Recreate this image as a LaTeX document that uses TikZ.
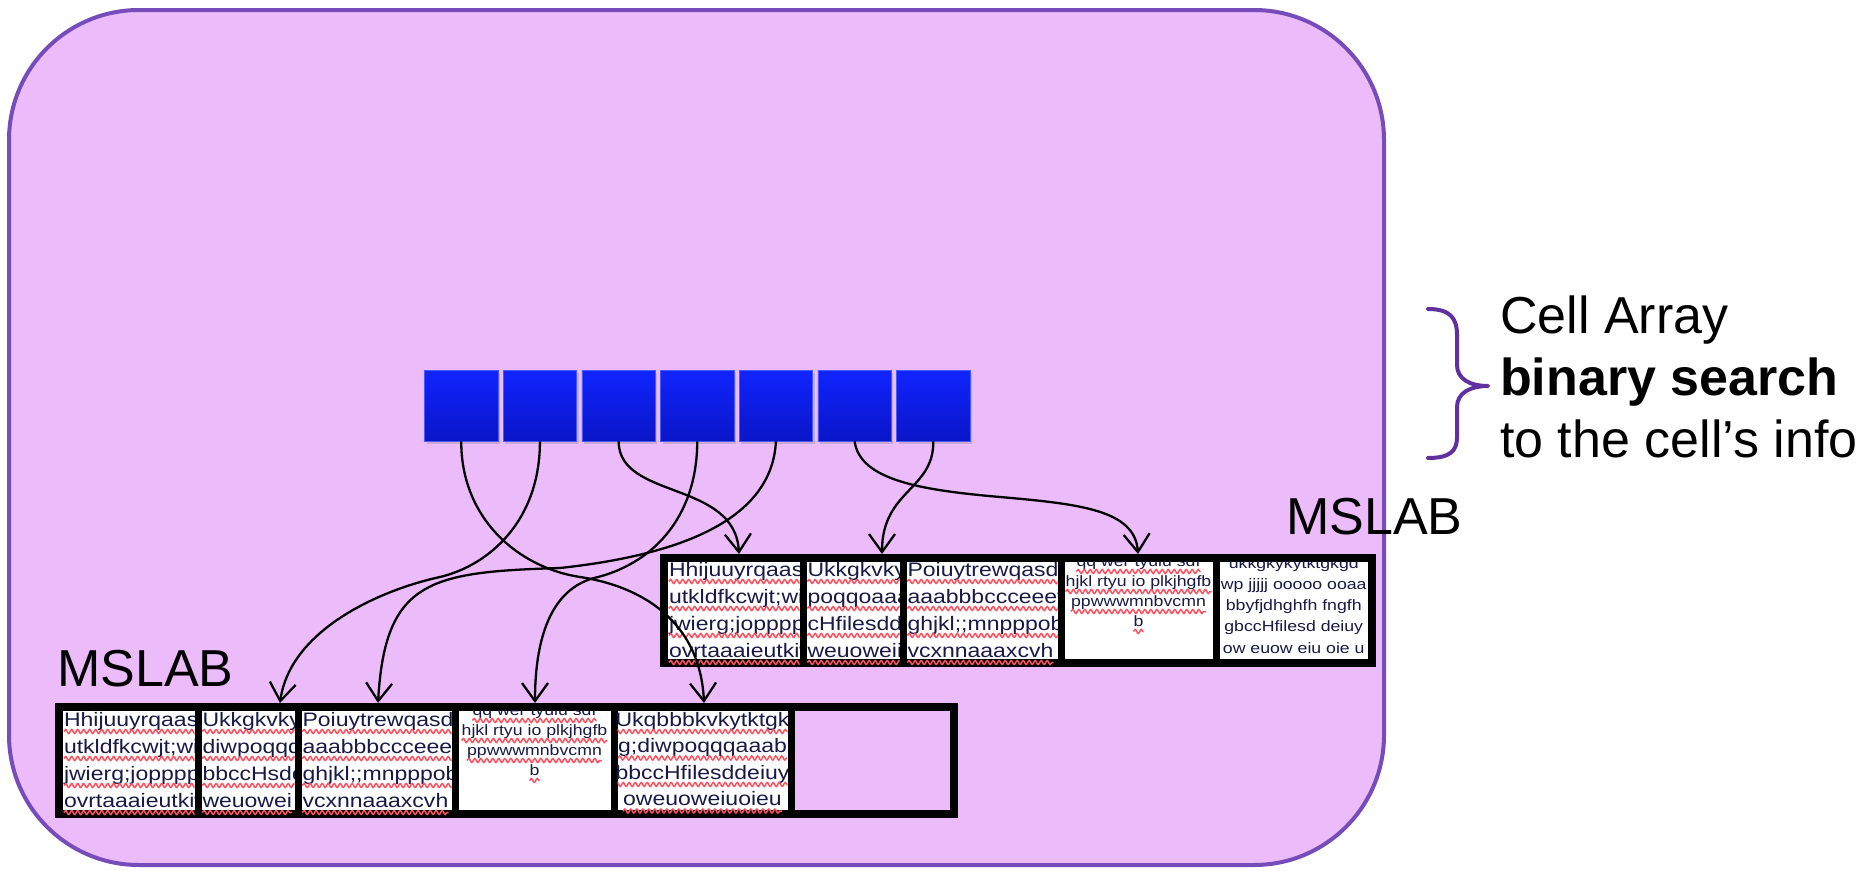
\documentclass[tikz,border=0pt]{standalone}
\usepackage{fontspec}
\setmainfont{Liberation Sans}
\newfontfamily\cellfont[FakeStretch=1.18]{Liberation Sans}
\usetikzlibrary{arrows.meta,decorations.pathmorphing,shadows}

\definecolor{panelfill}{RGB}{236,188,250}
\definecolor{panelline}{RGB}{118,76,186}
\definecolor{sqtop}{RGB}{16,36,255}
\definecolor{sqbot}{RGB}{10,22,200}
\definecolor{sqedge}{RGB}{70,90,255}
\definecolor{bracecol}{RGB}{96,48,160}
\definecolor{squigred}{RGB}{255,80,95}
\definecolor{celltext}{RGB}{25,25,70}

\tikzset{
  panel/.style={fill=panelfill, draw=panelline, line width=4pt, rounded corners=130pt},
  slot/.style={rectangle, minimum width=73.5pt, minimum height=71pt, inner sep=0pt,
    top color=sqtop, bottom color=sqbot, draw=sqedge, line width=0.6pt,
    drop shadow={shadow xshift=2pt, shadow yshift=-3pt, opacity=0.3}},
  arrframe/.style={draw=black, line width=8pt},
  divider/.style={draw=black, line width=7pt},
  cellbg/.style={rectangle, fill=white, inner sep=0pt},
  emptycell/.style={rectangle, inner sep=0pt},
  bigtxt/.style={inner sep=0pt, font=\cellfont\fontsize{19.5}{20}\selectfont, text=celltext},
  lefttxt/.style={bigtxt, anchor=base west, xshift=1pt},
  midtxt/.style={bigtxt, anchor=base},
  smalltxt/.style={inner sep=0pt, font=\cellfont\fontsize{15}{16}\selectfont, text=celltext, anchor=base},
  squig/.style={draw=squigred, line width=1.5pt, decorate,
    decoration={snake, segment length=6pt, amplitude=2pt}},
  link/.style={draw=black, line width=2.3pt, -{Straight Barb[length=18pt,width=26pt]}},
  bigword/.style={inner sep=0pt, anchor=base west, font=\fontsize{52}{62}\selectfont},
  bracestyle/.style={draw=bracecol, line width=4pt, line cap=round, line join=round},
}

\newif\ifsquig
% #1 cell node, #2 text style, #3 cell anchor giving the text x,
% #4 first baseline, #5 line pitch, #6 lines of text
\newcommand\cellblock[6]{%
  \begin{scope}
    \clip (#1.north west) rectangle ([yshift=-12pt]#1.south east);
    \foreach \txtline [count=\nr] in {#6} {
      \path (0,{#4+(\nr-1)*#5}) coordinate (#1b\nr);
      \node[#2] (#1t\nr) at (#1.#3 |- #1b\nr) {\txtline};
      \ifsquig
        \draw[squig] ([yshift=-5.5pt]#1t\nr.base west) -- ([yshift=-5.5pt]#1t\nr.base east);
      \fi
    }
  \end{scope}}

\begin{document}
\begin{tikzpicture}[x=1pt,y=-1pt]
\useasboundingbox (0,0) rectangle (1870,870);

% lavender panel
\path[panel] (9,10) rectangle (1384,865);

% cell array slots
\foreach \i in {1,...,7}
  \node[slot] (s\i) at ({461.25+78.67*(\i-1)},405.5) {};

% upper slab
\draw[arrframe] (664,558) rectangle (1372,663);
\foreach \x in {803,903,1061,1216}
  \draw[divider] (\x,558) -- (\x,663);
\node[cellbg, minimum width=131.5pt, minimum height=97pt] (u1) at (733.75,610.5) {};
\node[cellbg, minimum width=93pt,    minimum height=97pt] (u2) at (853,610.5) {};
\node[cellbg, minimum width=151pt,   minimum height=97pt] (u3) at (982,610.5) {};
\node[cellbg, minimum width=148pt,   minimum height=97pt] (u4) at (1138.5,610.5) {};
\node[cellbg, minimum width=148.5pt, minimum height=97pt] (u5) at (1293.75,610.5) {};

% lower slab
\draw[arrframe] (59,707) rectangle (954,814);
\foreach \x in {198,298,455,614,791}
  \draw[divider] (\x,707) -- (\x,814);
\node[cellbg, minimum width=131.5pt, minimum height=99pt] (l1) at (128.75,760.5) {};
\node[cellbg, minimum width=93pt,    minimum height=99pt] (l2) at (248,760.5) {};
\node[cellbg, minimum width=150pt,   minimum height=99pt] (l3) at (376.5,760.5) {};
\node[cellbg, minimum width=152pt,   minimum height=99pt] (l4) at (534.5,760.5) {};
\node[cellbg, minimum width=170pt,   minimum height=99pt] (l5) at (702.5,760.5) {};
\node[emptycell, minimum width=155.5pt, minimum height=99pt] (l6) at (872.25,760.5) {};

% cell contents
\squigtrue
\cellblock{u1}{lefttxt}{west}{576}{27}{Hhijuuyrqaas, utkldfkcwjt;wi, jwierg;joppppd, ovrtaaaieutkiw}
\cellblock{u2}{lefttxt}{west}{576}{27}{Ukkgkvkyi, poqqoaaa, cHfilesdd, weuoweii}
\cellblock{u3}{lefttxt}{west}{576}{27}{Poiuytrewqasd, aaabbbccceeef, ghjkl;;mnpppob, vcxnnaaaxcvh}
\cellblock{u4}{smalltxt}{center}{566}{20}{qq wer tyuiu sdf, hjkl rtyu io plkjhgfb, ppwwwmnbvcmn, b}
\squigfalse
\cellblock{u5}{smalltxt}{center}{568}{21.3}{ukkgkykytktgkgd, wp jjjjj ooooo ooaa, bbyfjdhghfh fngfh, gbccHfilesd deiuy, ow euow eiu oie u}
\squigtrue
\cellblock{l1}{lefttxt}{west}{726}{27}{Hhijuuyrqaas, utkldfkcwjt;wi, jwierg;joppppd, ovrtaaaieutkiw}
\cellblock{l2}{lefttxt}{west}{726}{27}{Ukkgkvkyi, diwpoqqq, bbccHsdd, weuowei}
\cellblock{l3}{lefttxt}{west}{726}{27}{Poiuytrewqasd, aaabbbccceeef, ghjkl;;mnpppob, vcxnnaaaxcvh}
\cellblock{l4}{smalltxt}{center}{715}{20}{qq wer tyuiu sdf, hjkl rtyu io plkjhgfb, ppwwwmnbvcmn, b}
\cellblock{l5}{midtxt}{center}{726}{26.5}{Ukqbbbkvkytktgk, g;diwpoqqqaaab, bbccHfilesddeiuy, oweuoweiuoieu}

% labels
\node[bigword] (mslabU) at (1286,534) {MSLAB};
\node[bigword] (mslabL) at (57,686) {MSLAB};
\node[bigword] (info1) at (1500,333) {Cell Array};
\node[bigword] (info2) at (1500,395) {\bfseries binary search};
\node[bigword] (info3) at (1500,457) {to the cell’s info};

% brace
\draw[bracestyle] (1428,309) .. controls (1450,309) and (1457,318) .. (1457,335)
  -- (1457,365) .. controls (1457,379) and (1470,386) .. (1488,386)
  .. controls (1470,386) and (1457,393) .. (1457,407)
  -- (1457,437) .. controls (1457,451) and (1450,458) .. (1428,458);

% pointer targets
\coordinate (tgtU1) at (739,554);
\coordinate (tgtU2) at (882,554);
\coordinate (tgtU4) at (1138,554);
\coordinate (tgtL2) at (280,703);
\coordinate (tgtL3) at (378,703);
\coordinate (tgtL4) at (535,703);
\coordinate (tgtL5) at (704,703);

% pointers
\draw[link] (s1.south) .. controls (461,520) and (520,568) .. (580,577)
  .. controls (640,586) and (700,620) .. (tgtL5);
\draw[link] (s2.south) .. controls (540,520) and (490,565) .. (440,577)
  .. controls (380,590) and (290,630) .. (tgtL2);
\draw[link] (s3.south) .. controls (619,500) and (735,480) .. (tgtU1);
\draw[link] (s4.south) .. controls (697,520) and (650,565) .. (594,578)
  .. controls (550,590) and (535,640) .. (tgtL4);
\draw[link] (s5.south) .. controls (772,520) and (680,555) .. (560,568)
  .. controls (430,572) and (385,580) .. (tgtL3);
\draw[link] (s6.south) .. controls (860,480) and (920,490) .. (1000,497)
  .. controls (1080,504) and (1135,510) .. (tgtU4);
\draw[link] (s7.south) .. controls (934,490) and (882,490) .. (tgtU2);
\end{tikzpicture}
\end{document}
